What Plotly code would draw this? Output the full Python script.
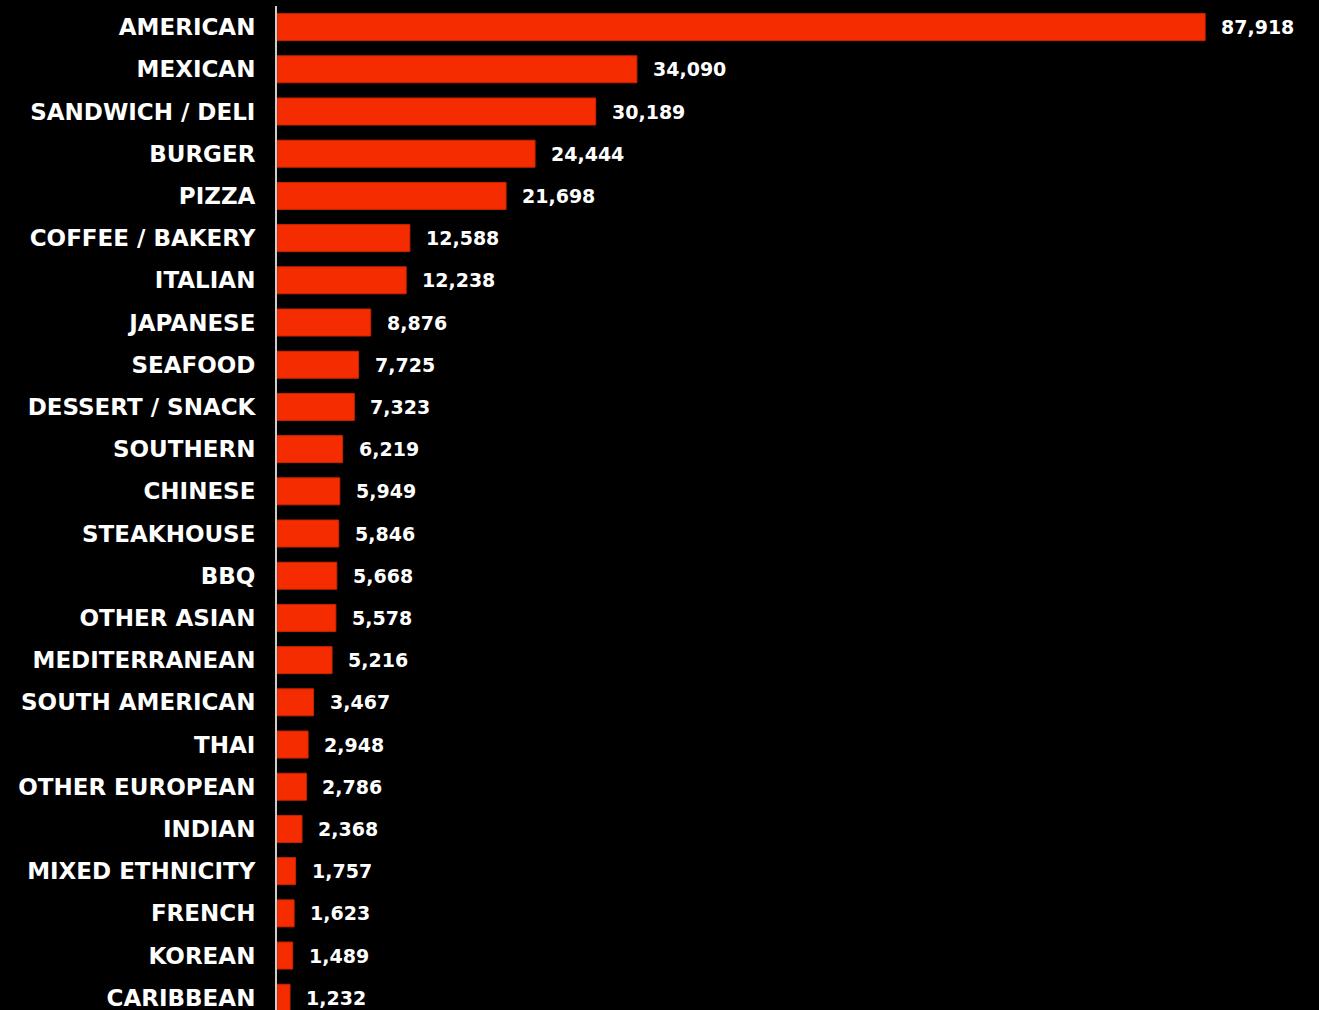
import plotly.graph_objects as go

categories = [
    "AMERICAN", "MEXICAN", "SANDWICH / DELI", "BURGER", "PIZZA", "COFFEE / BAKERY",
    "ITALIAN", "JAPANESE", "SEAFOOD", "DESSERT / SNACK", "SOUTHERN", "CHINESE",
    "STEAKHOUSE", "BBQ", "OTHER ASIAN", "MEDITERRANEAN", "SOUTH AMERICAN", "THAI",
    "OTHER EUROPEAN", "INDIAN", "MIXED ETHNICITY", "FRENCH", "KOREAN", "CARIBBEAN",
]
values = [
    87918, 34090, 30189, 24444, 21698, 12588,
    12238, 8876, 7725, 7323, 6219, 5949,
    5846, 5668, 5578, 5216, 3467, 2948,
    2786, 2368, 1757, 1623, 1489, 1232,
]

BAR_COLOR = "#F42C00"
FONT = "DejaVu Sans"

fig = go.Figure(
    go.Bar(
        x=values,
        y=categories,
        orientation="h",
        marker=dict(color=BAR_COLOR, line=dict(color="#C82400", width=1)),
        hoverinfo="skip",
    )
)

annotations = [
    dict(
        x=v, y=c, xref="x", yref="y",
        text=f"{v:,}", showarrow=False,
        xanchor="left", yanchor="middle", xshift=14,
        font=dict(family=FONT, size=19, color="#FFFFFF", weight=700),
    )
    for c, v in zip(categories, values)
]

fig.update_layout(
    width=1319,
    height=1010,
    margin=dict(l=277, r=0, t=6, b=0, pad=0),
    paper_bgcolor="#000000",
    plot_bgcolor="#000000",
    bargap=0.36,
    showlegend=False,
    annotations=annotations,
    xaxis=dict(
        range=[0, 98700],
        visible=False,
        showgrid=False,
        zeroline=False,
    ),
    yaxis=dict(
        categoryorder="array",
        categoryarray=categories,
        range=[23.29, -0.5],
        showgrid=False,
        zeroline=False,
        showline=True,
        linecolor="#CCCCCC",
        linewidth=2,
        ticks="",
        ticklabelstandoff=15,
        tickfont=dict(family=FONT, size=23, color="#FFFFFF", weight=700),
    ),
)

fig.write_html(
    "out.html",
    config={"displayModeBar": False},
    post_script=(
        "document.documentElement.style.margin='0';"
        "document.body.style.margin='0';"
        "document.body.style.background='#000';"
        "document.body.style.overflow='hidden';"
    ),
)
